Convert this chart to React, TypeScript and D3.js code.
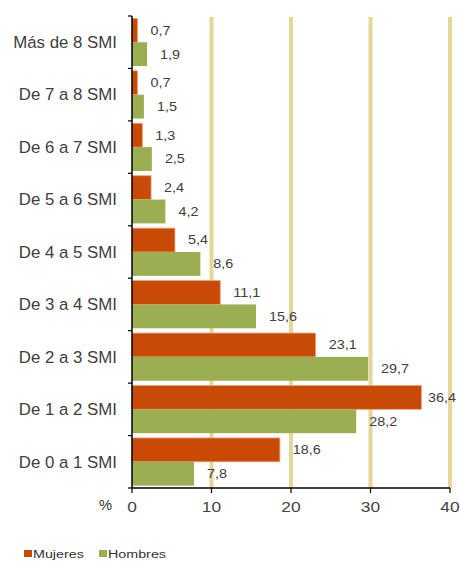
import React from "react";
import * as d3 from "d3";

const categories = [
  "Más de 8 SMI",
  "De 7 a 8 SMI",
  "De 6 a 7 SMI",
  "De 5 a 6 SMI",
  "De 4 a 5 SMI",
  "De 3 a 4 SMI",
  "De 2 a 3 SMI",
  "De 1 a 2 SMI",
  "De 0 a 1 SMI",
];
const mujeres = [0.7, 0.7, 1.3, 2.4, 5.4, 11.1, 23.1, 36.4, 18.6];
const hombres = [1.9, 1.5, 2.5, 4.2, 8.6, 15.6, 29.7, 28.2, 7.8];
const xTicks = [0, 10, 20, 30, 40];
const seriesNames = ["Mujeres", "Hombres"];

const W = 460;
const H = 561;
const left = 132;
const right = 450;
const top = 16;
const bottom = 488;
const colors = ["#C84A06", "#9BAF52"];
const font = "'Liberation Sans', Arial, sans-serif";

const fmt = (v: number) => v.toFixed(1).replace(".", ",");

function SText(props: {
  x: number;
  y: number;
  sx: number;
  size: number;
  anchor?: string;
  fill?: string;
  children: React.ReactNode;
}) {
  return (
    <g transform={`translate(${props.x},${props.y}) scale(${props.sx},1)`}>
      <text
        x={0}
        y={0}
        dy="0.35em"
        textAnchor={props.anchor || "start"}
        fontSize={props.size}
        fill={props.fill || "#404040"}
        fontFamily={font}
      >
        {props.children}
      </text>
    </g>
  );
}

export default function App() {
  const x = d3.scaleLinear().domain([0, 40]).range([left, right]);
  const y = d3.scaleBand<string>().domain(categories).range([top, bottom]).paddingInner(0).paddingOuter(0);
  const inner = d3
    .scaleBand<string>()
    .domain(seriesNames)
    .range([0, y.bandwidth()])
    .paddingInner(0)
    .paddingOuter(0.1);
  const series = [mujeres, hombres];

  return (
    <svg width={W} height={H} style={{ position: "absolute", left: 0, top: 0, background: "#fff" }}>
      {xTicks.filter((t) => t > 0).map((t) => (
        <line key={"g" + t} x1={x(t)} x2={x(t)} y1={top + 1} y2={bottom} stroke="#E3D79A" strokeWidth={4} />
      ))}
      {categories.map((c, i) =>
        series.map((s, k) => (
          <rect
            key={c + k}
            x={x(0)}
            y={(y(c) as number) + (inner(seriesNames[k]) as number)}
            width={x(s[i]) - x(0)}
            height={inner.bandwidth()}
            fill={colors[k]}
            stroke={k === 0 ? "#E9A57A" : "none"}
            strokeWidth={k === 0 ? 0.8 : 0}
          />
        ))
      )}
      {categories.map((c, i) =>
        series.map((s, k) => {
          const yy = (y(c) as number) + (inner(seriesNames[k]) as number) + inner.bandwidth() / 2;
          const xx = Math.min(x(s[i]) + 13, W - 32);
          return (
            <SText key={"v" + c + k} x={xx} y={yy} sx={1.15} size={12.5}>
              {fmt(s[i])}
            </SText>
          );
        })
      )}
      <line x1={left} x2={left} y1={top} y2={bottom} stroke="#000" strokeWidth={1.5} />
      {categories.map((c) => (
        <line key={"t" + c} x1={left - 4} x2={left} y1={y(c) as number} y2={y(c) as number} stroke="#000" strokeWidth={1.2} />
      ))}
      <line x1={left - 4} x2={left} y1={bottom} y2={bottom} stroke="#000" strokeWidth={1.2} />
      {categories.map((c) => (
        <SText key={"l" + c} x={117} y={(y(c) as number) + y.bandwidth() / 2} sx={1.02} size={16.5} anchor="end" fill="#404040">
          {c}
        </SText>
      ))}
      <line x1={left} x2={right} y1={bottom} y2={bottom} stroke="#000" strokeWidth={1.5} />
      {xTicks.map((t) => (
        <g key={"x" + t}>
          <line x1={x(t)} x2={x(t)} y1={bottom} y2={bottom + 5} stroke="#000" strokeWidth={1.2} />
          <SText x={x(t)} y={507} sx={1.12} size={15.5} anchor="middle" fill="#444">
            {t}
          </SText>
        </g>
      ))}
      <SText x={112} y={505} sx={1.05} size={14} anchor="end" fill="#333">
        %
      </SText>
      {seriesNames.map((n, k) => {
        const lx = k === 0 ? 24 : 99;
        return (
          <g key={"lg" + n}>
            <rect x={lx} y={550} width={8} height={7} fill={colors[k]} />
            <SText x={lx + 9} y={554} sx={1.3} size={11} fill="#333">
              {n}
            </SText>
          </g>
        );
      })}
    </svg>
  );
}
